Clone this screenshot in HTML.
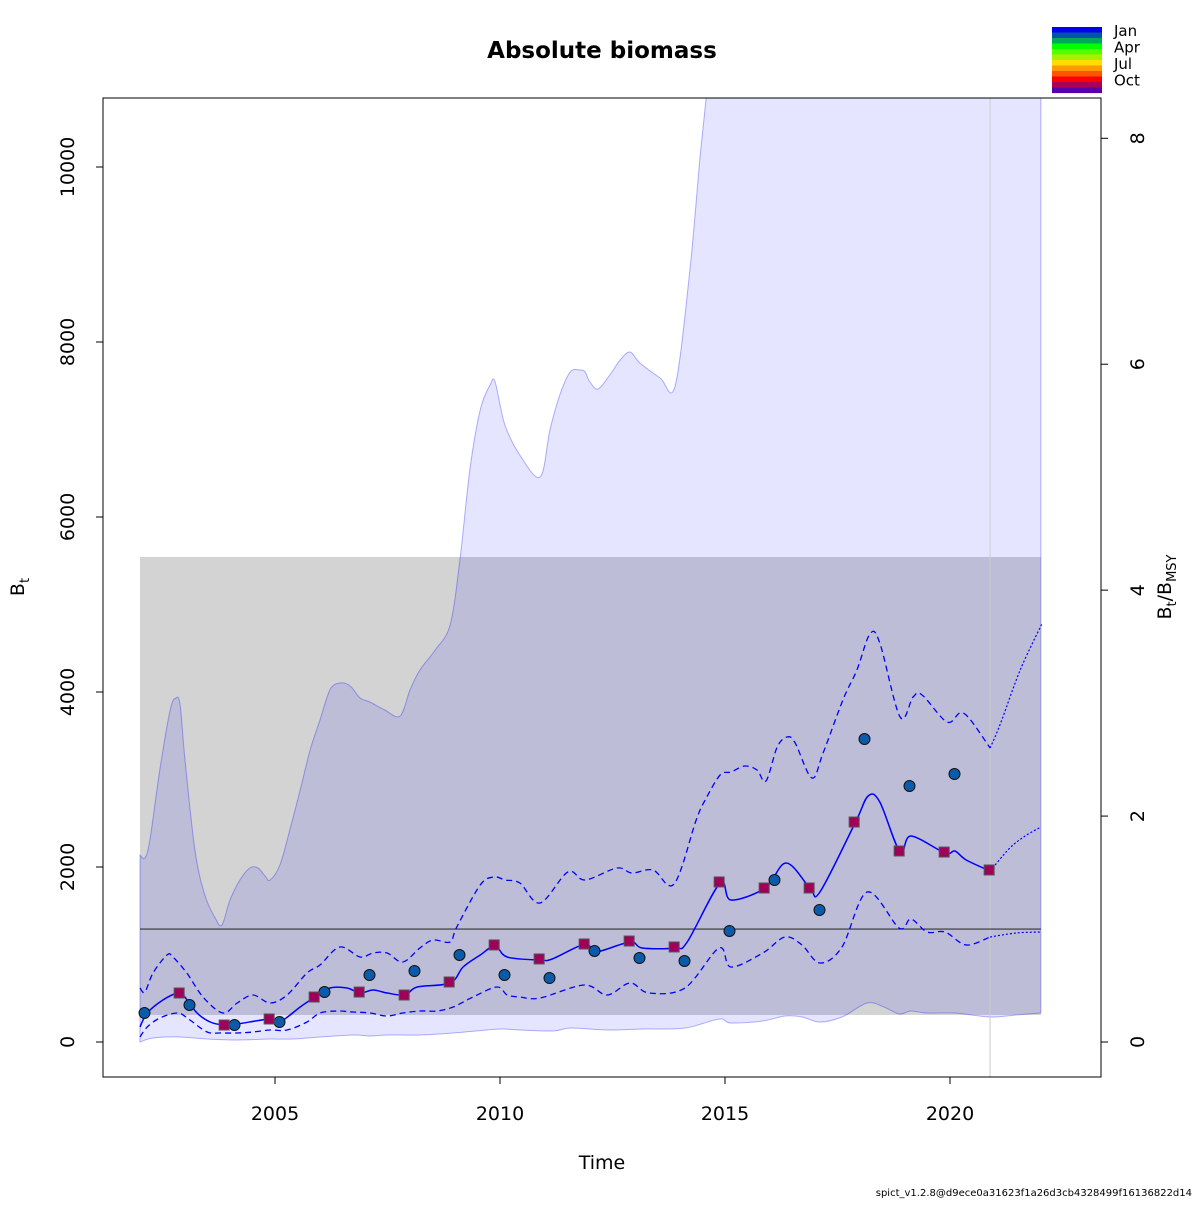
<!DOCTYPE html>
<html><head><meta charset="utf-8"><style>
html,body{margin:0;padding:0;background:#fff;}
svg text{font-family:"DejaVu Sans","Liberation Sans",sans-serif;}
</style></head><body>
<svg id="chart" width="1200" height="1200" viewBox="0 0 1200 1200" xmlns="http://www.w3.org/2000/svg">
<defs><clipPath id="plotclip"><rect x="103" y="98" width="998" height="979"/></clipPath></defs>
<rect width="1200" height="1200" fill="#fff"/>
<text x="602" y="58" text-anchor="middle" font-size="23" font-weight="bold">Absolute biomass</text>
<g id="plot" clip-path="url(#plotclip)"></g>
<rect x="103" y="98" width="998" height="979" fill="none" stroke="#000" stroke-width="1"/>
<g id="axes"></g>
<text x="602" y="1169" text-anchor="middle" font-size="19">Time</text>
<text transform="translate(24,587) rotate(-90)" text-anchor="middle" font-size="19">B<tspan font-size="13" dy="5">t</tspan></text>
<text transform="translate(1171,587) rotate(-90)" text-anchor="middle" font-size="19">B<tspan font-size="13" dy="5">t</tspan><tspan dy="-5">/B</tspan><tspan font-size="13" dy="5">MSY</tspan></text>
<g id="legend"></g>
<text x="1192" y="1196" text-anchor="end" font-size="10">spict_v1.2.8@d9ece0a31623f1a26d3cb4328499f16136822d14</text>
</svg>
<script>
// ---- data ----
const xTicks = [2005, 2010, 2015, 2020];
const yTicks = [0, 2000, 4000, 6000, 8000, 10000];
const rTicks = [0, 2, 4, 6, 8];
const bmsy = 1291;
const bmsyLo = 309, bmsyHi = 5543;
const tStart = 2002.0, tEnd = 2022.02, tLast = 2020.89;

const estYears = [2002.00,2002.16,2002.51,2002.84,2002.96,2003.27,2003.56,2003.87,2004.16,2004.89,2005.11,2005.56,2005.89,2006.22,2006.60,2006.89,2007.18,2007.49,2007.89,2008.16,2008.89,2009.18,2009.56,2009.89,2010.16,2010.89,2011.16,2011.89,2012.13,2012.89,2013.16,2013.89,2014.16,2014.89,2015.13,2015.89,2016.36,2016.89,2017.11,2017.89,2018.18,2018.44,2018.89,2019.13,2019.89,2020.11,2020.36,2020.89];
const estVals = [171,331,480,560,537,331,229,194,206,263,229,400,514,617,617,560,594,560,537,629,674,857,994,1097,971,937,949,1120,1029,1143,1074,1074,1143,1817,1623,1760,2046,1760,1714,2503,2811,2743,2171,2354,2160,2183,2080,1954];
const predYears = [2020.89,2021.33,2021.67,2022.02];
const predVals = [1954,2217,2354,2457];

const upYears = [2002.00,2002.11,2002.29,2002.60,2002.73,2003.04,2003.40,2003.84,2004.16,2004.51,2004.89,2005.27,2005.71,2006.00,2006.44,2006.89,2007.18,2007.49,2007.84,2008.22,2008.51,2008.89,2009.04,2009.56,2009.87,2010.11,2010.44,2010.89,2011.51,2011.89,2012.60,2012.93,2013.40,2013.87,2014.36,2014.56,2014.89,2015.13,2015.44,2015.71,2015.91,2016.16,2016.38,2016.56,2016.93,2017.18,2017.62,2017.93,2018.22,2018.44,2018.89,2019.18,2019.38,2019.93,2020.22,2020.44,2020.89];
const upVals = [617,571,789,994,971,789,514,331,446,537,446,537,789,880,1086,971,1017,1017,914,1074,1166,1143,1314,1794,1886,1851,1817,1589,1943,1851,1989,1931,1966,1806,2537,2766,3051,3086,3154,3109,2983,3371,3486,3417,3017,3303,3909,4251,4663,4560,3714,3943,3966,3657,3760,3691,3360];
const upPredYears = [2020.89,2021.11,2021.56,2022.04];
const upPredVals = [3360,3623,4251,4777];

const loYears = [2002.00,2002.16,2002.44,2002.84,2003.11,2003.49,2003.78,2004.16,2004.51,2004.89,2005.27,2005.71,2006.00,2006.38,2006.73,2007.11,2007.49,2007.84,2008.22,2008.60,2008.96,2009.40,2009.93,2010.16,2010.44,2010.89,2011.87,2012.38,2012.89,2013.31,2014.11,2014.87,2015.13,2015.84,2016.33,2016.71,2017.11,2017.60,2018.16,2018.87,2019.13,2019.49,2019.89,2020.36,2020.89];
const loVals = [57,171,274,331,251,114,103,103,114,137,137,229,331,354,343,331,297,331,354,354,400,514,629,537,514,503,651,537,674,560,617,1074,857,1017,1200,1109,903,1086,1714,1303,1406,1257,1257,1109,1200];
const loPredYears = [2020.89,2021.47,2022.02];
const loPredVals = [1200,1246,1257];

const ciUpYears = [2002.00,2002.11,2002.22,2002.44,2002.67,2002.80,2002.89,2003.00,2003.22,2003.44,2003.67,2003.82,2004.00,2004.22,2004.44,2004.62,2004.78,2004.89,2005.11,2005.33,2005.56,2005.78,2006.00,2006.22,2006.44,2006.67,2006.89,2007.11,2007.44,2007.78,2008.00,2008.22,2008.56,2008.89,2009.11,2009.33,2009.56,2009.78,2009.89,2010.11,2010.44,2010.89,2011.11,2011.33,2011.56,2011.78,2011.89,2012.00,2012.18,2012.44,2012.67,2012.89,2013.11,2013.56,2013.89,2014.22,2014.44,2014.58,2015.0,2018.0,2022.02];
const ciUpVals = [2137,2103,2309,3109,3794,3931,3851,3223,2194,1680,1417,1337,1623,1851,1989,1989,1897,1851,2023,2423,2880,3337,3680,4023,4103,4069,3931,3886,3794,3726,4023,4251,4480,4766,5509,6537,7223,7509,7543,7051,6709,6457,6994,7394,7657,7680,7657,7543,7463,7623,7794,7886,7760,7589,7497,8823,10080,10789,13000,30000,40000];
const ciLoYears = [2002.00,2002.29,2002.89,2003.49,2004.16,2004.89,2005.40,2006.00,2006.73,2007.11,2007.49,2008.22,2008.96,2009.71,2010.07,2010.44,2011.18,2011.58,2012.38,2013.16,2014.11,2014.87,2015.13,2015.84,2016.33,2016.71,2017.11,2017.60,2018.16,2018.53,2018.87,2019.13,2019.49,2020.11,2020.89,2021.47,2022.02];
const ciLoVals = [0,46,57,34,23,34,34,57,80,69,80,80,103,137,149,137,126,160,137,149,160,263,217,240,297,286,229,286,446,400,320,354,331,331,286,309,331];

const obsYears = [2002.1,2003.1,2004.1,2005.1,2006.1,2007.1,2008.1,2009.1,2010.1,2011.1,2012.1,2013.1,2014.1,2015.1,2016.1,2017.1,2018.1,2019.1,2020.1];
const obsVals = [331,423,194,229,571,766,811,994,766,731,1040,960,926,1269,1851,1509,3463,2926,3063];
const obs2Years = [2002.87,2003.87,2004.87,2005.87,2006.87,2007.87,2008.87,2009.87,2010.87,2011.87,2012.87,2013.87,2014.87,2015.87,2016.87,2017.87,2018.87,2019.87,2020.87];
const obs2Vals = [560,194,263,514,571,537,686,1109,949,1120,1154,1086,1829,1760,1760,2514,2183,2171,1966];

const legendColors = ['#0000ee','#0055aa','#00aa55','#00ff00','#55ff00','#aaee00','#ffdd00','#ff9900','#ff5500','#ff0000','#aa0055','#5500aa'];
const legendLabels = ['Jan','Apr','Jul','Oct'];

// ---- scales ----
const NS = 'http://www.w3.org/2000/svg';
function X(t){ return 140 + (t - 2002) * 45; }
function Y(b){ return 1042 - b * 0.0875; }
function YR(r){ return 1042 - r * 0.0875 * bmsy; }
function mk(tag, attrs, parent){ const e = document.createElementNS(NS, tag); for (const k in attrs) e.setAttribute(k, attrs[k]); parent.appendChild(e); return e; }
function pts(ts, vs){ return ts.map((t,i)=>[X(t), Y(vs[i])]); }
function spline(p){
  let d = '';
  for (let i=0;i<p.length-1;i++){
    const p0=p[Math.max(0,i-1)], p1=p[i], p2=p[i+1], p3=p[Math.min(p.length-1,i+2)];
    const c1x=p1[0]+(p2[0]-p0[0])/6, c1y=p1[1]+(p2[1]-p0[1])/6;
    const c2x=p2[0]-(p3[0]-p1[0])/6, c2y=p2[1]-(p3[1]-p1[1])/6;
    d += ' C'+c1x.toFixed(1)+','+c1y.toFixed(1)+' '+c2x.toFixed(1)+','+c2y.toFixed(1)+' '+p2[0].toFixed(1)+','+p2[1].toFixed(1);
  }
  return d;
}
function pathOf(ts, vs){ const p = pts(ts, vs); return 'M'+p[0][0].toFixed(1)+','+p[0][1].toFixed(1)+spline(p); }

const plot = document.getElementById('plot');
// grey Bmsy CI
const g1 = mk('rect', {x:X(tStart), y:Y(bmsyHi), width:X(tEnd)-X(tStart), height:Y(bmsyLo)-Y(bmsyHi), fill:'#d3d3d3'}, plot);


// biomass CI polygon
const up = pts(ciUpYears, ciUpVals);
const lo = pts(ciLoYears, ciLoVals).reverse();
const dCI = 'M'+up[0][0]+','+up[0][1]+spline(up)+' L'+lo[0][0]+','+lo[0][1]+spline(lo)+' Z';
const ci = mk('path', {d:dCI, fill:'rgba(0,0,255,0.1)', stroke:'rgba(0,0,255,0.3)', 'stroke-width':1}, plot);


// vertical line at last obs
const vl = mk('line', {x1:X(tLast), x2:X(tLast), y1:98, y2:1077, stroke:'#cccccc', 'stroke-width':1}, plot);


// Bmsy line
const hl = mk('line', {x1:X(tStart), x2:X(tEnd), y1:Y(bmsy), y2:Y(bmsy), stroke:'#333', 'stroke-width':1.2}, plot);


// dashed bounds
const u1 = mk('path', {d:pathOf(upYears, upVals), fill:'none', stroke:'#0000ff', 'stroke-width':1.3, 'stroke-dasharray':'6,4'}, plot);


const l1 = mk('path', {d:pathOf(loYears, loVals), fill:'none', stroke:'#0000ff', 'stroke-width':1.3, 'stroke-dasharray':'6,4'}, plot);


const u2 = mk('path', {d:pathOf(upPredYears, upPredVals), fill:'none', stroke:'#0000ff', 'stroke-width':1.2, 'stroke-dasharray':'2,2'}, plot);


const l2 = mk('path', {d:pathOf(loPredYears, loPredVals), fill:'none', stroke:'#0000ff', 'stroke-width':1.2, 'stroke-dasharray':'2,2'}, plot);


// estimate line
const el = mk('path', {d:pathOf(estYears, estVals), fill:'none', stroke:'#0000ff', 'stroke-width':1.5}, plot);


const pl = mk('path', {d:pathOf(predYears, predVals), fill:'none', stroke:'#0000ff', 'stroke-width':1.2, 'stroke-dasharray':'2,2'}, plot);


// observations
obsYears.forEach((t,i)=>{
  const c = mk('circle', {cx:X(t), cy:Y(obsVals[i]), r:5.5, fill:'#0a5cab', stroke:'#111', 'stroke-width':1}, plot);
  
  
});
obs2Years.forEach((t,i)=>{
  const s = mk('rect', {x:X(t)-5, y:Y(obs2Vals[i])-5, width:10, height:10, fill:'#a0005a', stroke:'#555', 'stroke-width':1}, plot);
  
  
});

// axes
const axes = document.getElementById('axes');
xTicks.forEach(t=>{
  const l = mk('line', {x1:X(t), x2:X(t), y1:1077, y2:1084, stroke:'#000'}, axes);
  
  
  const tx = mk('text', {x:X(t), y:1120, 'text-anchor':'middle', 'font-size':19}, axes);
  tx.textContent = t;
  
  
});
yTicks.forEach(v=>{
  const l = mk('line', {x1:96, x2:103, y1:Y(v), y2:Y(v), stroke:'#000'}, axes);
  
  
  const tx = mk('text', {transform:'translate(74,'+Y(v)+') rotate(-90)', 'text-anchor':'middle', 'font-size':19}, axes);
  tx.textContent = v;
  
  
});
rTicks.forEach(v=>{
  const l = mk('line', {x1:1101, x2:1108, y1:YR(v), y2:YR(v), stroke:'#000'}, axes);
  
  
  const tx = mk('text', {transform:'translate(1144,'+YR(v)+') rotate(-90)', 'text-anchor':'middle', 'font-size':19}, axes);
  tx.textContent = v;
  
  
});

// legend
const lg = document.getElementById('legend');
legendColors.forEach((c,i)=>{
  const r = mk('rect', {x:1052, y:27+i*5.5, width:50, height:5.6, fill:c}, lg);
  
  
});
legendLabels.forEach((s,i)=>{
  const t = mk('text', {x:1114, y:36+i*16.5, 'font-size':15}, lg);
  t.textContent = s;
  
  
});
</script>
</body></html>
